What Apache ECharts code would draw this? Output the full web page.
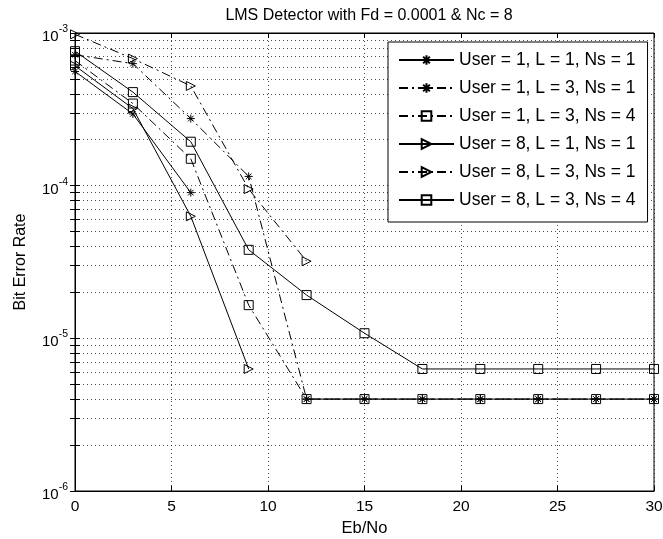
<!DOCTYPE html>
<html>
<head>
<meta charset="utf-8">
<script src="https://cdn.jsdelivr.net/npm/echarts@6/dist/echarts.min.js"></script>
<style>
  html, body { margin: 0; padding: 0; background: #fff; }
  #chart { width: 663px; height: 539px; }
</style>
</head>
<body>
<div id="chart"></div>
<script>
// Eb/No points (dB)
var ebno = [0, 3, 6, 9, 12, 15, 18, 21, 24, 27, 30];

// bit error rates (null = not plotted)
var berU1L1Ns1 = [5.6e-4, 2.95e-4, 9.0e-5, null, 4e-6, 4e-6, 4e-6, 4e-6, 4e-6, 4e-6, 4e-6];
var berU1L3Ns1 = [7.2e-4, 6.3e-4, 2.75e-4, 1.15e-4, 4e-6, 4e-6, 4e-6, 4e-6, 4e-6, 4e-6, 4e-6];
var berU1L3Ns4 = [6.6e-4, 3.45e-4, 1.5e-4, 1.65e-5, 4e-6, 4e-6, 4e-6, 4e-6, 4e-6, 4e-6, 4e-6];
var berU8L1Ns1 = [6.1e-4, 3.2e-4, 6.3e-5, 6.3e-6, null, null, null, null, null, null, null];
var berU8L3Ns1 = [9.8e-4, 6.8e-4, 4.5e-4, 9.5e-5, 3.2e-5, null, null, null, null, null, null];
var berU8L3Ns4 = [7.6e-4, 4.1e-4, 1.94e-4, 3.8e-5, 1.92e-5, 1.08e-5, 6.3e-6, 6.3e-6, 6.3e-6, 6.3e-6, 6.3e-6];

var seriesNames = [
    "User = 1, L = 1, Ns = 1",
    "User = 1, L = 3, Ns = 1",
    "User = 1, L = 3, Ns = 4",
    "User = 8, L = 1, Ns = 1",
    "User = 8, L = 3, Ns = 1",
    "User = 8, L = 3, Ns = 4"
];

// log grid lines between decades
var decades = [1e-6, 1e-5, 1e-4, 1e-3];
var minorValues = [];
for (var d = 0; d < 3; d++) {
    for (var m = 2; m <= 9; m++) {
        minorValues.push(+(m * decades[d]).toPrecision(3));
    }
}
var allTickValues = decades.concat(minorValues);

var FONT = "Liberation Sans";
var DASHDOT = [9, 4, 2, 4];
var DOTS = [1, 3];
var STAR = "path://M5,0L5,10M0,5L10,5M1.5,1.5L8.5,8.5M8.5,1.5L1.5,8.5";
var TRI = "path://M0,0L10,5L0,10Z";

function pairs(values) {
    var out = [];
    for (var i = 0; i < ebno.length; i++) {
        out.push([ebno[i], values[i]]);
    }
    return out;
}

function makeSeries(name, values, lineType, symbol, size) {
    return {
        name: name,
        type: "line",
        data: pairs(values),
        symbol: symbol,
        symbolSize: size,
        symbolKeepAspect: true,
        showAllSymbol: true,
        connectNulls: false,
        lineStyle: { color: "#000", width: 1, type: lineType },
        itemStyle: { color: "none", borderColor: "#000", borderWidth: 1 },
        emphasis: { disabled: true },
        z: 3
    };
}

var series = [
    makeSeries(seriesNames[0], berU1L1Ns1, "solid", STAR, 8),
    makeSeries(seriesNames[1], berU1L3Ns1, DASHDOT, STAR, 8),
    makeSeries(seriesNames[2], berU1L3Ns4, DASHDOT, "rect", 9),
    makeSeries(seriesNames[3], berU8L1Ns1, "solid", TRI, 9),
    makeSeries(seriesNames[4], berU8L3Ns1, DASHDOT, TRI, 9),
    makeSeries(seriesNames[5], berU8L3Ns4, "solid", "rect", 9)
];

// minor horizontal grid, drawn as mark lines at the 2..9 values
series.push({
    name: "minor-grid",
    type: "line",
    data: [],
    silent: true,
    z: 1,
    markLine: {
        silent: true,
        symbol: ["none", "none"],
        label: { show: false },
        lineStyle: { color: "#000", width: 1, type: DOTS, opacity: 0.7 },
        emphasis: { disabled: true },
        animation: false,
        data: minorValues.map(function (v) { return { yAxis: v }; })
    }
});

var chart = echarts.init(document.getElementById("chart"), null, { renderer: "canvas" });

var option = {
    animation: false,
    backgroundColor: "#fff",
    textStyle: { fontFamily: FONT, color: "#000" },
    title: {
        text: "LMS Detector with Fd = 0.0001 & Nc = 8",
        left: 364,
        top: 3,
        textAlign: "center",
        textStyle: { fontFamily: FONT, fontSize: 16, fontWeight: "normal", color: "#000" }
    },
    legend: {
        data: seriesNames,
        orient: "vertical",
        left: 388,
        top: 42,
        padding: [9, 12, 13, 10],
        itemWidth: 55,
        itemHeight: 12,
        itemGap: 10,
        backgroundColor: "#fff",
        borderColor: "#000",
        borderWidth: 1,
        borderRadius: 0,
        selectedMode: false,
        textStyle: { fontFamily: FONT, fontSize: 17.5, lineHeight: 14, color: "#000" }
    },
    grid: {
        left: 75,
        right: 9,
        top: 33,
        bottom: 48,
        show: true,
        borderColor: "#000",
        borderWidth: 1,
        backgroundColor: "#fff",
        containLabel: false,
        outerBoundsMode: "none"
    },
    xAxis: [
        {
            type: "value",
            min: 0,
            max: 30,
            interval: 5,
            name: "Eb/No",
            nameLocation: "middle",
            nameGap: 29,
            nameTextStyle: { fontFamily: FONT, fontSize: 16.5, color: "#000" },
            axisLine: { show: true, lineStyle: { color: "#000", width: 1 } },
            axisTick: { show: true, inside: true, length: 5, lineStyle: { color: "#000" } },
            axisLabel: { fontFamily: FONT, fontSize: 15.5, color: "#000", margin: 8 },
            splitLine: { show: true, lineStyle: { color: "#000", width: 1, type: DOTS, opacity: 0.7 } }
        },
        {
            type: "value",
            position: "top",
            min: 0,
            max: 30,
            interval: 5,
            axisLine: { show: true, lineStyle: { color: "#000", width: 1 } },
            axisTick: { show: true, inside: true, length: 5, lineStyle: { color: "#000" } },
            axisLabel: { show: false },
            splitLine: { show: false }
        }
    ],
    yAxis: [
        {
            type: "log",
            logBase: 10,
            min: 1e-6,
            max: 1e-3,
            interval: 1,
            name: "Bit Error Rate",
            nameLocation: "middle",
            nameGap: 46,
            nameTextStyle: { fontFamily: FONT, fontSize: 16, color: "#000" },
            axisLine: { show: true, lineStyle: { color: "#000", width: 1 } },
            axisTick: { show: true, inside: true, length: 5, lineStyle: { color: "#000" }, customValues: allTickValues },
            axisLabel: {
                margin: 7,
                color: "#000",
                formatter: function (value) {
                    var e = Math.round(Math.log(value) / Math.LN10);
                    return "{b|10}{sup|" + e + "}";
                },
                rich: {
                    b: { fontFamily: FONT, fontSize: 15, color: "#000", padding: [8, 0, 0, 0] },
                    sup: { fontFamily: FONT, fontSize: 10.5, color: "#000", padding: [0, 0, 8, 0] }
                }
            },
            splitLine: { show: true, lineStyle: { color: "#000", width: 1, type: DOTS, opacity: 0.7 } }
        },
        {
            type: "log",
            logBase: 10,
            position: "right",
            min: 1e-6,
            max: 1e-3,
            interval: 1,
            axisLine: { show: true, lineStyle: { color: "#000", width: 1 } },
            axisTick: { show: true, inside: true, length: 5, lineStyle: { color: "#000" }, customValues: allTickValues },
            axisLabel: { show: false },
            splitLine: { show: false }
        }
    ],
    series: series
};

chart.setOption(option);
</script>
</body>
</html>
